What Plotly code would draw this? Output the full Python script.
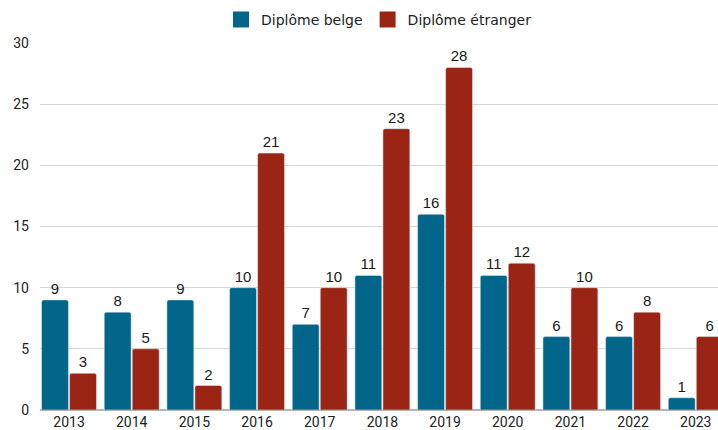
import plotly.graph_objects as go

# data
years = ['2013', '2014', '2015', '2016', '2017', '2018', '2019', '2020', '2021', '2022', '2023']
belge = [9, 8, 9, 10, 7, 11, 16, 11, 6, 6, 1]
etranger = [3, 5, 2, 21, 10, 23, 28, 12, 10, 8, 6]
y_ticks = [0, 5, 10, 15, 20, 25, 30]

blue = '#02668b'
red = '#9b2515'
label_font = dict(family='Liberation Sans, Arial, sans-serif', size=15, color='#1a1a1a')
tick_font = dict(family='Roboto, sans-serif', size=14, color='#222222')

fig = go.Figure()
fig.add_trace(go.Bar(x=years, y=belge, name='Diplôme belge', showlegend=False,
                     marker=dict(color=blue, cornerradius=2),
                     text=belge, textposition='outside', cliponaxis=False,
                     textfont=label_font))
fig.add_trace(go.Bar(x=years, y=etranger, name='Diplôme étranger', showlegend=False,
                     marker=dict(color=red, cornerradius=2),
                     text=etranger, textposition='outside', cliponaxis=False,
                     textfont=label_font))
# legend entries with square markers
for name, col in [('Diplôme belge', blue), ('Diplôme étranger', red)]:
    fig.add_trace(go.Scatter(x=[None], y=[None], mode='markers', name=name,
                             marker=dict(symbol='square', size=16, color=col)))

fig.update_layout(
    width=718, height=430,
    barmode='group', bargap=0.106, bargroupgap=0.04,
    plot_bgcolor='white', paper_bgcolor='white',
    font=dict(family='DejaVu Sans, sans-serif', size=14, color='#222222'),
    margin=dict(l=40, r=0, t=43, b=20, autoexpand=False),
    legend=dict(orientation='h', x=0.5, xanchor='center', y=1.063, yanchor='middle',
                font=dict(size=14), itemwidth=30),
)
fig.update_xaxes(type='category', range=[-0.463, 10.355], showgrid=False,
                 ticks='', ticklabelstandoff=2, tickfont=tick_font)
fig.update_yaxes(range=[0, 30], tickvals=y_ticks, gridcolor='#d6d6d6',
                 zeroline=True, zerolinecolor='#b5b5b5', zerolinewidth=2,
                 ticks='', ticklabelstandoff=10, tickfont=tick_font)

# drop the default body margin so the figure fills the window exactly
fig.write_html("out.html", config={'displayModeBar': False},
               post_script="document.body.style.margin='0';document.body.style.overflow='hidden';")
